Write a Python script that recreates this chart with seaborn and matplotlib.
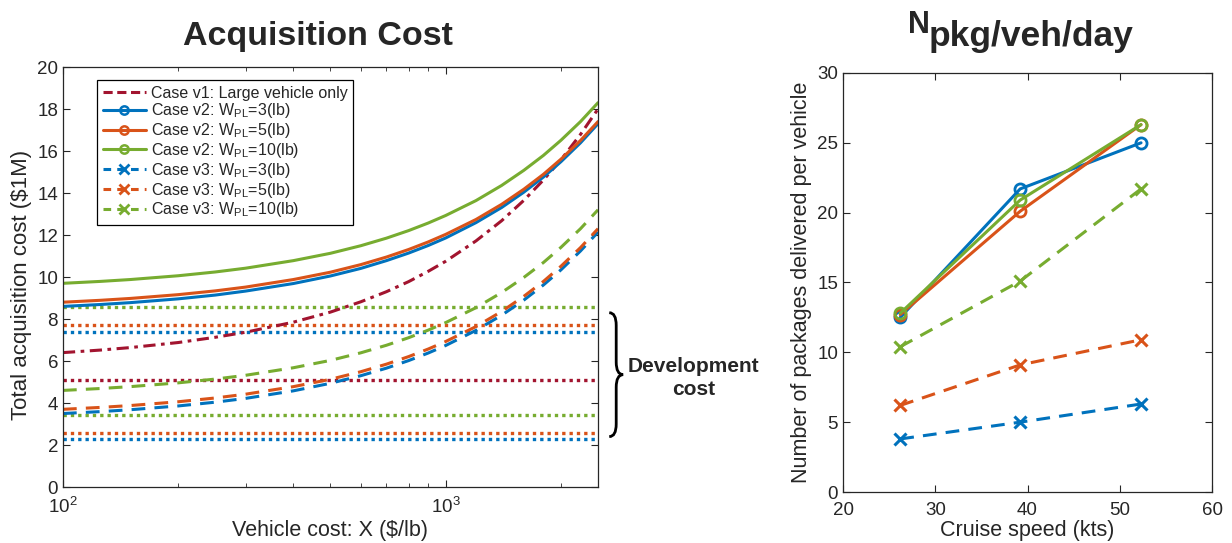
import numpy as np
import pandas as pd
import seaborn as sns
import matplotlib.pyplot as plt
from matplotlib.lines import Line2D
from matplotlib.path import Path
from matplotlib.patches import PathPatch
import matplotlib.transforms as mtransforms

sns.set_style("ticks")
plt.rcParams['font.family'] = ['Liberation Sans', 'DejaVu Sans']
plt.rcParams['mathtext.fontset'] = 'custom'
plt.rcParams['mathtext.rm'] = 'Liberation Sans'
plt.rcParams['xtick.direction'] = 'in'
plt.rcParams['ytick.direction'] = 'in'

## colours (matlab default order)
BLUE, ORANGE, GREEN, RED = '#0072BD', '#D95319', '#77AC30', '#A2142F'
DARK = '#262626'

# left panel: acquisition cost vs vehicle cost ($/lb)
vehicle_cost = [100, 125, 150, 200, 250, 300, 400, 500, 600, 700, 800, 900, 1000,
                1200, 1400, 1600, 1800, 2000, 2250, 2500]
cost_v1 = [6.40, 6.52, 6.64, 6.88, 7.13, 7.37, 7.85, 8.33, 8.82, 9.30, 9.78, 10.27, 10.75,
           11.72, 12.68, 13.65, 14.62, 15.58, 16.79, 18.00]
cost_v2_3 = [8.60, 8.69, 8.78, 8.96, 9.14, 9.33, 9.69, 10.05, 10.41, 10.78, 11.14, 11.50, 11.86,
             12.59, 13.31, 14.04, 14.76, 15.49, 16.39, 17.30]
cost_v2_5 = [8.80, 8.89, 8.98, 9.16, 9.34, 9.52, 9.88, 10.23, 10.59, 10.95, 11.31, 11.67, 12.03,
             12.74, 13.46, 14.18, 14.89, 15.61, 16.50, 17.40]
cost_v2_10 = [9.70, 9.79, 9.88, 10.06, 10.24, 10.42, 10.78, 11.13, 11.49, 11.85, 12.21, 12.57, 12.93,
              13.64, 14.36, 15.08, 15.79, 16.51, 17.40, 18.30]
cost_v3_3 = [3.50, 3.59, 3.68, 3.86, 4.04, 4.22, 4.58, 4.94, 5.30, 5.66, 6.02, 6.38, 6.74,
             7.46, 8.18, 8.90, 9.62, 10.34, 11.24, 12.14]
cost_v3_5 = [3.70, 3.79, 3.88, 4.06, 4.24, 4.42, 4.78, 5.13, 5.49, 5.85, 6.21, 6.57, 6.93,
             7.64, 8.36, 9.08, 9.79, 10.51, 11.40, 12.30]
cost_v3_10 = [4.60, 4.69, 4.78, 4.96, 5.14, 5.32, 5.68, 6.03, 6.39, 6.75, 7.11, 7.47, 7.83,
              8.54, 9.26, 9.98, 10.69, 11.41, 12.30, 13.20]

# development cost levels (dotted lines)
dev_v1 = 5.1
dev_v2 = [7.4, 7.7, 8.55]   # 3, 5, 10 lb
dev_v3 = [2.3, 2.55, 3.45]

# right panel: packages per vehicle vs cruise speed
cruise_speed = [26.2, 39.2, 52.3]
pkg_v2_3 = [12.5, 21.7, 25.0]
pkg_v2_5 = [12.7, 20.1, 26.3]
pkg_v2_10 = [12.8, 20.9, 26.3]
pkg_v3_3 = [3.8, 5.0, 6.3]
pkg_v3_5 = [6.2, 9.1, 10.9]
pkg_v3_10 = [10.4, 15.1, 21.7]

payloads = ['3', '5', '10']
colors = [BLUE, ORANGE, GREEN]

fig = plt.figure(figsize=(12.32, 5.43), dpi=100)
ax1 = fig.add_axes([0.0511, 0.1031, 0.4343, 0.7735])
ax2 = fig.add_axes([0.6843, 0.0939, 0.2995, 0.7717])

#----- left panel
lw = 2.2
for y, c in zip(dev_v2 + dev_v3 + [dev_v1], colors + colors + [RED]):
    ax1.axhline(y, color=c, lw=2.4, ls=(0, (1, 1.2)), zorder=1)

sns.lineplot(x=vehicle_cost, y=cost_v1, ax=ax1, color=RED, lw=lw,
             linestyle=(0, (4, 1.8, 1.2, 1.8)))
for ys, c in zip([cost_v2_3, cost_v2_5, cost_v2_10], colors):
    sns.lineplot(x=vehicle_cost, y=ys, ax=ax1, color=c, lw=lw)
for ys, c in zip([cost_v3_3, cost_v3_5, cost_v3_10], colors):
    sns.lineplot(x=vehicle_cost, y=ys, ax=ax1, color=c, lw=lw, linestyle=(0, (4.5, 3)))

ax1.set_xscale('log')
ax1.set_xlim(100, 2500)
ax1.set_ylim(0, 20)
ax1.set_yticks(range(0, 21, 2))
ax1.set_xlabel('Vehicle cost: X ($/lb)', fontsize=15.5, color=DARK, labelpad=2)
ax1.set_ylabel('Total acquisition cost ($1M)', fontsize=16, color=DARK)
ax1.yaxis.set_label_coords(-0.058, 0.48)
fig.text(318 / 1232, 1 - 45 / 543, 'Acquisition Cost', fontsize=24.5, fontweight='bold',
         ha='center', va='baseline')

handles = [Line2D([], [], color=RED, lw=lw, ls=(0, (3, 1.5)))]
labels = ['Case v1: Large vehicle only']
for c, p in zip(colors, payloads):
    handles.append(Line2D([], [], color=c, lw=lw, marker='o', ms=6, mfc='none', mew=1.8))
    labels.append('Case v2: W$_{\\mathregular{PL}}$=%s(lb)' % p)
for c, p in zip(colors, payloads):
    handles.append(Line2D([], [], color=c, lw=lw, ls=(0, (2.5, 2)), marker='x', ms=7, mew=2))
    labels.append('Case v3: W$_{\\mathregular{PL}}$=%s(lb)' % p)
leg = ax1.legend(handles, labels, loc='upper left', bbox_to_anchor=(0.064, 0.969),
                 borderaxespad=0, fontsize=11.5, handlelength=2.7, handletextpad=0.3,
                 labelspacing=0.05, fancybox=False, framealpha=1, borderpad=0.35)
leg.get_frame().set_edgecolor('black')
leg.get_frame().set_linewidth(0.9)

# brace for development cost
trans = mtransforms.blended_transform_factory(ax1.transAxes, ax1.transData)
x0, x1, xt = 1.021, 1.034, 1.047
ytop, ybot, r = 8.3, 2.4, 0.6
ymid = (ytop + ybot) / 2
verts = [(x0, ytop), (x1, ytop), (x1, ytop - r), (x1, ymid + r), (x1, ymid), (xt, ymid),
         (x1, ymid), (x1, ymid - r), (x1, ybot + r), (x1, ybot), (x0, ybot)]
codes = [Path.MOVETO, Path.CURVE3, Path.CURVE3, Path.LINETO, Path.CURVE3, Path.CURVE3,
         Path.CURVE3, Path.CURVE3, Path.LINETO, Path.CURVE3, Path.CURVE3]
ax1.add_patch(PathPatch(Path(verts, codes), transform=trans, fill=False, lw=2,
                        edgecolor='black', clip_on=False))
ax1.text(1.178, 5.2, 'Development\ncost', transform=trans, ha='center', va='center',
         fontsize=15, fontweight='bold', linespacing=1.25)

#----- right panel
for ys, c in zip([pkg_v2_3, pkg_v2_5, pkg_v2_10], colors):
    sns.lineplot(x=cruise_speed, y=ys, ax=ax2, color=c, lw=lw, marker='o', ms=8,
                 mfc='none', mec=c, mew=2)
for ys, c in zip([pkg_v3_3, pkg_v3_5, pkg_v3_10], colors):
    sns.lineplot(x=cruise_speed, y=ys, ax=ax2, color=c, lw=lw, linestyle=(0, (4.5, 3)),
                 marker='x', ms=8, mec=c, mew=2.2)

ax2.set_xlim(20, 60)
ax2.set_ylim(0, 30)
ax2.set_xticks(range(20, 61, 10))
ax2.set_yticks(range(0, 31, 5))
ax2.set_xlabel('Cruise speed (kts)', fontsize=15.5, color=DARK, labelpad=1)
ax2.set_ylabel('Number of packages delivered per vehicle', fontsize=15.5, color=DARK, labelpad=4)

# title N_pkg/veh/day
fig.text(908 / 1232, 1 - 33 / 543, 'N', fontsize=22, fontweight='bold', ha='left', va='baseline')
fig.text(929 / 1232, 1 - 46 / 543, 'pkg/veh/day', fontsize=25.5, fontweight='bold',
         ha='left', va='baseline')

for ax in (ax1, ax2):
    for s in ax.spines.values():
        s.set_visible(True)
        s.set_linewidth(0.9)
        s.set_color(DARK)
    ax.tick_params(which='both', top=True, right=True, labelsize=13.5, colors=DARK)
    ax.tick_params(which='major', length=5)
    ax.tick_params(which='minor', length=3)
    ax.tick_params(axis='x', which='both', pad=7)
    ax.grid(False)

fig.savefig('out.png', dpi=100)
